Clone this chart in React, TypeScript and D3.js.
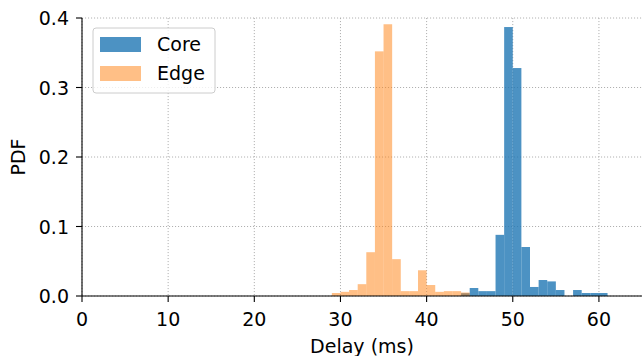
import * as d3 from "d3";

const WIDTH = 642;
const HEIGHT = 356;
const M = { top: 18, right: 0, bottom: 60, left: 82 };

// bin width 1 ms, bins start at integer delays
const coreBins = [44, 45, 46, 47, 48, 49, 50, 51, 52, 53, 54, 55, 56, 57, 58, 59, 60];
const coreValues = [0.004, 0.0115, 0.007, 0.007, 0.088, 0.387, 0.328, 0.0705, 0.013, 0.023, 0.021, 0.0086, 0, 0.0086, 0.0043, 0.0043, 0.0043];

const edgeBins = [29, 30, 31, 32, 33, 34, 35, 36, 37, 38, 39, 40, 41, 42, 43, 44];
const edgeValues = [0.0043, 0.006, 0.0086, 0.017, 0.063, 0.352, 0.391, 0.053, 0.007, 0.007, 0.037, 0.0158, 0.006, 0.007, 0.007, 0.005];

const xTicks = [0, 10, 20, 30, 40, 50, 60];
const yTicks = [0, 0.1, 0.2, 0.3, 0.4];

const BLUE = "#1f77b4";
const ORANGE = "#ff7f0e";
const FONT = "DejaVu Sans, sans-serif";

export default function App() {
  const innerW = WIDTH - M.left - M.right;
  const innerH = HEIGHT - M.top - M.bottom;
  const x = d3.scaleLinear().domain([0, 65]).range([0, innerW]);
  const y = d3.scaleLinear().domain([0, 0.4]).range([innerH, 0]);

  const bars = (bins: number[], vals: number[], color: string, op: number) =>
    bins.map((b, i) =>
      vals[i] > 0 ? (
        <rect
          key={b}
          x={x(b)}
          y={y(vals[i])}
          width={x(b + 1) - x(b)}
          height={innerH - y(vals[i])}
          fill={color}
          fillOpacity={op}
        />
      ) : null
    );

  return (
    <svg
      width={WIDTH}
      height={HEIGHT}
      style={{ position: "fixed", left: 0, top: 0, background: "#fff" }}
      fontFamily={FONT}
    >
      <g transform={`translate(${M.left},${M.top})`}>
        {/* grid */}
        {xTicks.map((t) => (
          <line key={"gx" + t} x1={x(t)} x2={x(t)} y1={0} y2={innerH} stroke="#b0b0b0" strokeWidth={1} strokeDasharray="1.1,1.9" />
        ))}
        {yTicks.map((t) => (
          <line key={"gy" + t} x1={0} x2={innerW} y1={y(t)} y2={y(t)} stroke="#b0b0b0" strokeWidth={1} strokeDasharray="1.1,1.9" />
        ))}

        {bars(coreBins, coreValues, BLUE, 0.8)}
        {bars(edgeBins, edgeValues, ORANGE, 0.5)}

        {/* axes */}
        <line x1={0} x2={0} y1={0} y2={innerH} stroke="#000" strokeWidth={1.1} />
        <line x1={0} x2={innerW} y1={innerH} y2={innerH} stroke="#000" strokeWidth={1.1} />

        {xTicks.map((t) => (
          <g key={"tx" + t} transform={`translate(${x(t)},${innerH})`}>
            <line y1={0} y2={6} stroke="#000" strokeWidth={1.1} />
            <text y={30} textAnchor="middle" fontSize={19} fill="#000">{t}</text>
          </g>
        ))}
        {yTicks.map((t) => (
          <g key={"ty" + t} transform={`translate(0,${y(t)})`}>
            <line x1={-6} x2={0} stroke="#000" strokeWidth={1.1} />
            <text x={-13} y={7} textAnchor="end" fontSize={19} fill="#000">{d3.format(".1f")(t)}</text>
          </g>
        ))}

        <text x={innerW / 2} y={innerH + 57} textAnchor="middle" fontSize={19} fill="#000">Delay (ms)</text>
      </g>
      <text transform={`translate(25,${M.top + innerH / 2}) rotate(-90)`} textAnchor="middle" fontSize={19} fill="#000">PDF</text>

      {/* legend */}
      <g>
        <rect x={93} y={28} width={122} height={65} rx={3} fill="#fff" fillOpacity={0.8} stroke="#cccccc" strokeWidth={1} />
        <rect x={100} y={37} width={41} height={15} fill={BLUE} fillOpacity={0.8} />
        <text x={157} y={51} fontSize={19} fill="#000">Core</text>
        <rect x={100} y={66} width={41} height={15} fill={ORANGE} fillOpacity={0.5} />
        <text x={157} y={80} fontSize={19} fill="#000">Edge</text>
      </g>
    </svg>
  );
}
